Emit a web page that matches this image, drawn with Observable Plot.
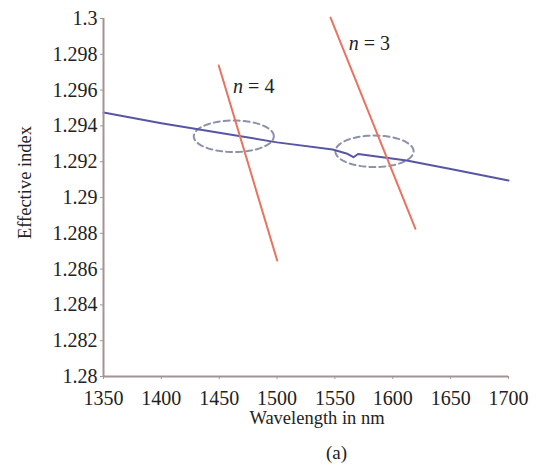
<!DOCTYPE html>
<html>
<head>
<meta charset="utf-8">
<script src="https://cdn.jsdelivr.net/npm/d3@7"></script>
<script src="https://cdn.jsdelivr.net/npm/@observablehq/plot@0.6"></script>
<style>
  body { margin: 0; background: #fff; font-family: "Liberation Serif", serif; }
  svg, svg text, svg g { font-family: "Liberation Serif", serif !important; font-variant: normal !important; font-variant-numeric: normal !important; }
  #caption { font-family: "Liberation Serif", serif; font-size: 19px; padding-left: 132px; text-align: center; width: 409px; margin-top: 6px; color: #222; }
</style>
</head>
<body>
<div id="chart"></div>
<div id="caption">(a)</div>
<script>
// Blue: effective index of the guided mode
const blueWavelength = [1350, 1400, 1450, 1500, 1548, 1560, 1566, 1570, 1612, 1650, 1700];
const blueIndex      = [1.29475, 1.29415, 1.29362, 1.29308, 1.29268, 1.29246, 1.29225, 1.29243, 1.29207, 1.29159, 1.29095];

// Red: phase-matching lines for orders n = 4 and n = 3
const redOrders     = ["n = 4", "n = 3"];
const redWavelength = [[1449.6, 1500.1], [1546.2, 1619.6]];
const redIndex      = [[1.29737, 1.28648], [1.30005, 1.28825]];

// Label anchor points for the order annotations
const labelWavelength = [1462, 1562];
const labelIndex      = [1.2962, 1.2986];

// Dashed ellipses marking the crossings (center, semi-axes)
const ellipseCenterX = [1462.6, 1584.2];
const ellipseCenterY = [1.29342, 1.29258];
const ellipseRadiusX = [34.6, 33.8];
const ellipseRadiusY = [0.00088, 0.00088];

const xTicks = [1350, 1400, 1450, 1500, 1550, 1600, 1650, 1700];
const yTicks = [1.28, 1.282, 1.284, 1.286, 1.288, 1.29, 1.292, 1.294, 1.296, 1.298, 1.3];
const xLabel = "Wavelength in nm";
const yLabel = "Effective index";

const blue = blueWavelength.map((w, i) => ({w, v: blueIndex[i]}));
const red = redOrders.flatMap((o, k) => redWavelength[k].map((w, j) => ({order: o, w, v: redIndex[k][j]})));
const labels = redOrders.map((o, k) => ({w: labelWavelength[k], v: labelIndex[k], num: o.split("= ")[1]}));
const ellipses = ellipseCenterX.flatMap((cx, k) =>
  d3.range(0, 73).map(i => {
    const t = (i / 72) * 2 * Math.PI;
    return {id: k, w: cx + ellipseRadiusX[k] * Math.cos(t), v: ellipseCenterY[k] + ellipseRadiusY[k] * Math.sin(t)};
  })
);

const serif = "Liberation Serif";
const axisColor = "#a39494";
const chart = Plot.plot({
  width: 541,
  height: 436,
  marginLeft: 103,
  marginRight: 33,
  marginTop: 18,
  marginBottom: 60,
  style: {fontFamily: "'Liberation Serif', serif", fontSize: "20px", color: "#222", background: "#fff"},
  x: {domain: [1350, 1700]},
  y: {domain: [1.28, 1.3]},
  marks: [
    Plot.axisX({ticks: xTicks, tickSize: 3, tickPadding: 11, stroke: axisColor, label: null, fontFamily: serif, fontVariant: "normal", fontSize: 20, fill: "#222", tickFormat: d => String(d)}),
    Plot.axisY({ticks: yTicks, tickSize: 3, tickPadding: 3, stroke: axisColor, label: null, fontFamily: serif, fontVariant: "normal", fontSize: 20, fill: "#222", tickFormat: d => String(+d.toFixed(3))}),
    Plot.text([xLabel], {frameAnchor: "bottom", text: d => d, dy: 47, dx: 11, fontFamily: serif, fontSize: 18.5, fill: "#222"}),
    Plot.text([yLabel], {frameAnchor: "left", text: d => d, rotate: -90, textAnchor: "middle", dx: -78, dy: -15, fontFamily: serif, fontSize: 18.5, fill: "#222"}),
    Plot.line(ellipses, {x: "w", y: "v", z: "id", stroke: "#8c91ab", strokeWidth: 2, strokeDasharray: "6,4", curve: "linear"}),
    Plot.line(blue, {x: "w", y: "v", stroke: "#5656a4", strokeWidth: 2}),
    Plot.line(red, {x: "w", y: "v", z: "order", stroke: "#e8735f", strokeWidth: 2}),
    Plot.ruleX([1350], {stroke: axisColor, strokeWidth: 2}),
    Plot.ruleY([1.28], {stroke: axisColor, strokeWidth: 2}),
    Plot.text(labels, {x: "w", y: "v", text: d => "n", textAnchor: "start", fontStyle: "italic", fontFamily: serif, fontSize: 20, fill: "#222"}),
    Plot.text(labels, {x: "w", y: "v", text: d => "= " + d.num, textAnchor: "start", dx: 15, fontFamily: serif, fontSize: 20, fill: "#222"})
  ]
});
document.getElementById("chart").append(chart);
</script>
</body>
</html>
